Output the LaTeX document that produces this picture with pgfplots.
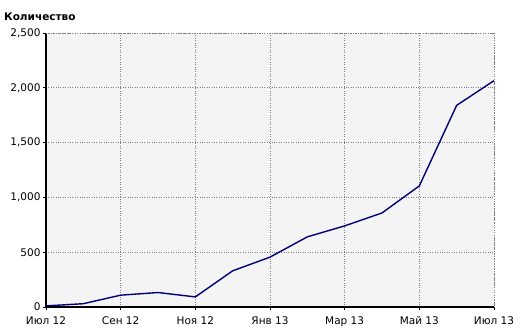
\documentclass[border=0pt]{standalone}
\usepackage{fontspec}
\setmainfont{DejaVu Sans}
\usepackage{pgfplots}
\pgfplotsset{compat=1.18}
\definecolor{bgc}{HTML}{F4F4F4}
\definecolor{linec}{HTML}{000078}
\begin{document}
\begin{tikzpicture}[x=1pt,y=1pt]
\path (0,0) rectangle (520,334);
\begin{axis}[
  at={(46pt,27pt)}, anchor=south west,
  scale only axis, width=448pt, height=274pt,
  xmin=0, xmax=12, ymin=0, ymax=2500,
  axis x line*=bottom, axis y line*=left,
  axis line style={line width=1.6pt, black},
  axis background/.style={fill=bgc},
  xtick={0,2,4,6,8,10,12},
  xticklabels={Июл 12,Сен 12,Ноя 12,Янв 13,Мар 13,Май 13,Июл 13},
  ytick={0,500,1000,1500,2000,2500},
  tick align=outside, major tick length=3pt,
  tick style={black, line width=0.8pt},
  grid=major,
  major grid style={gray, dotted, line width=0.6pt},
  tick label style={font=\fontsize{10.5}{12}\selectfont},
  /pgf/number format/assume math mode=true,
  /pgf/number format/.cd, 1000 sep={,},
  /pgfplots/.cd,
  xticklabel style={yshift=-3pt},
  yticklabel style={xshift=1pt},
  clip=false,
]
\draw[gray, dotted, line width=0.6pt] (axis cs:0,2500) -- (axis cs:12,2500) -- (axis cs:12,0);
\addplot[linec, line width=1.4pt, mark=none] coordinates {
(0,10) (1,30) (2,108) (3,132) (4,92) (5,330) (6,455) (7,640) (8,740) (9,858) (10,1105) (11,1840) (12,2065)
};
\end{axis}
\node[anchor=base west, font=\bfseries\fontsize{10.5}{12}\selectfont, inner sep=0pt] at (4pt,313pt) {Количество};
\end{tikzpicture}
\end{document}
